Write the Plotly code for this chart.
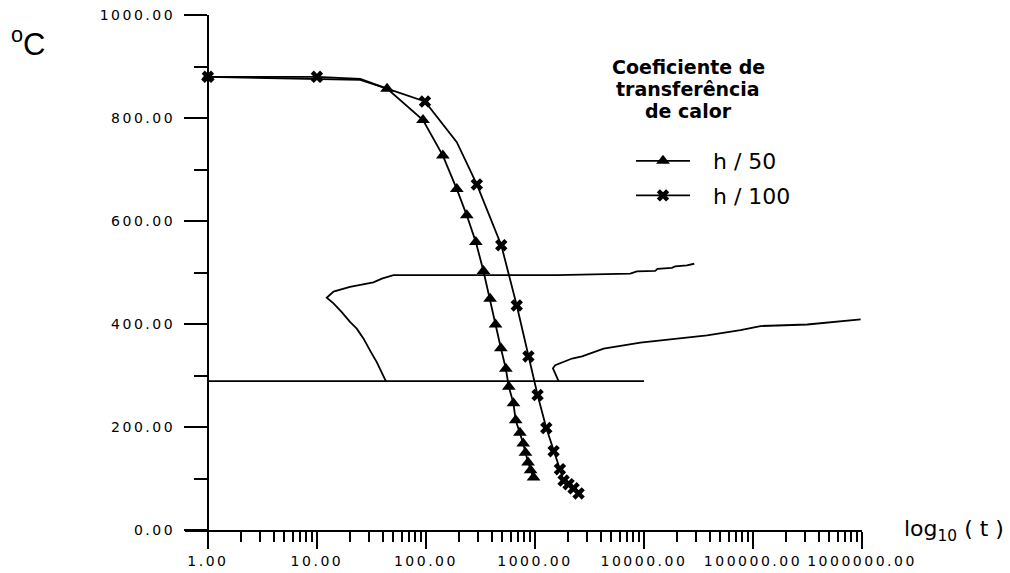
import plotly.graph_objects as go

# ---- cooling curves, time in s (log scale) vs temperature in ºC ----
# h / 50 : marked points
h50_t = [1, 44, 94, 143, 192, 237, 287, 337, 388, 435, 487, 541, 576, 635,
         666, 728, 781, 818, 865, 912, 971]
h50_T = [880, 857, 796, 727, 662, 611, 559, 503, 449, 399, 353, 313, 278, 246,
         213, 189, 168, 150, 131, 116, 102]
# unmarked bends of the h / 50 line
h50_bend_t = [25]
h50_bend_T = [874]

# h / 100 : marked points
h100_t = [1, 10, 98, 293, 491, 681, 871, 1057, 1271, 1483, 1695, 1832, 2034,
          2261, 2514]
h100_T = [880, 880, 832, 671, 553, 436, 337, 262, 198, 153, 118, 96, 89, 81, 71]
# unmarked bends of the h / 100 line
h100_bend_t = [25, 44, 192]
h100_bend_T = [876, 857, 753]

# ---- transformation lines ----
ms_t = [1, 10000]
ms_T = [289, 289]

start_t = [43.1, 39.4, 35.4, 31.8, 29.6, 26.7, 23.2, 20.1, 16.9, 14.2, 12.3,
           14.2, 20.1, 33, 39.4, 50.3, 1592, 7480, 8610, 12680, 13300, 18030,
           19320, 24770, 28900]
start_T = [288, 307, 326, 343, 355, 372, 391, 404, 423, 440, 451,
           463, 472, 481, 488, 495, 495, 498, 502, 503, 507, 509,
           512, 514, 517]

end_t = [1648, 1535, 1462, 1535, 2188, 2704, 4270, 9270, 37960, 76760,
         117200, 314700, 971000]
end_T = [289, 304, 314, 320, 333, 337, 352, 364, 378, 388, 396, 399, 409]

# ---- axes ----
x_major = [1, 10, 100, 1000, 10000, 100000, 1000000]
x_minor = [k * 10 ** d for d in range(6) for k in range(2, 10)]
y_major = [0, 200, 400, 600, 800, 1000]
y_minor = [100, 300, 500, 700, 900]

x_labels = [f"{v:.2f}" for v in x_major]
y_labels = [f"{v:.2f}" for v in y_major]

series_names = ["h / 50", "h / 100"]
legend_title_lines = ["Coeficiente de", "transferência", "de calor"]
y_title = "<sup>o</sup>C"
x_title = "log<sub>10</sub> ( t )"

X_RANGE = [-0.21, 6.0]
Y_RANGE = [0, 1000]
INK = "black"
LW = 1.8
KEY_GAP = "\u2002\u00a0"   # room between the legend key and its label


def spaced(s):
    return f'<span style="letter-spacing:2.5px">{s}</span>'


def merged(t_pts, T_pts, t_b, T_b):
    pts = sorted(zip(list(t_pts) + list(t_b), list(T_pts) + list(T_b)))
    return [p[0] for p in pts], [p[1] for p in pts]


fig = go.Figure()

# transformation lines
for tt, TT in [(ms_t, ms_T), (start_t, start_T), (end_t, end_T)]:
    fig.add_trace(go.Scatter(x=tt, y=TT, mode="lines", showlegend=False,
                             line=dict(color=INK, width=LW), hoverinfo="skip"))

# cooling curves
curves = [
    (h50_t, h50_T, h50_bend_t, h50_bend_T, "triangle-up", 12),
    (h100_t, h100_T, h100_bend_t, h100_bend_T, "x", 11),
]
for name, (tt, TT, tb, Tb, sym, ms) in zip(series_names, curves):
    lx, ly = merged(tt, TT, tb, Tb)
    fig.add_trace(go.Scatter(x=lx, y=ly, mode="lines", showlegend=False,
                             line=dict(color=INK, width=LW)))
    fig.add_trace(go.Scatter(x=tt, y=TT, mode="markers", showlegend=False,
                             marker=dict(symbol=sym, size=ms, color=INK,
                                         line=dict(width=0))))
    # legend key
    fig.add_trace(go.Scatter(x=[None], y=[None], mode="lines+markers",
                             name=KEY_GAP + name, legendgroup=name,
                             line=dict(color=INK, width=LW),
                             marker=dict(symbol=sym, size=ms, color=INK,
                                         line=dict(width=0))))

# layout geometry (pixels)
W, H = 1010, 573
ML, MR, MT, MB = 185, 148, 15, 43
pw, ph = W - ML - MR, H - MT - MB


def px_x(x):
    return (x - ML) / pw


def px_y(y):
    return (H - MB - y) / ph


fig.update_layout(
    width=W, height=H,
    margin=dict(l=ML, r=MR, t=MT, b=MB, pad=0, autoexpand=False),
    paper_bgcolor="white", plot_bgcolor="white",
    font=dict(family="DejaVu Sans", color=INK),
    xaxis=dict(type="log", range=X_RANGE, showgrid=False, zeroline=False,
               automargin=False,
               showline=True, linecolor=INK, linewidth=2,
               ticks="outside", ticklen=17, tickwidth=2, tickcolor=INK,
               tickmode="array", tickvals=x_major,
               ticktext=[spaced(s) for s in x_labels],
               tickfont=dict(size=14), ticklabelstandoff=0,
               minor=dict(ticks="outside", ticklen=10, tickwidth=2,
                          tickcolor=INK, tickmode="array", tickvals=x_minor,
                          showgrid=False)),
    yaxis=dict(range=Y_RANGE, anchor="free",
               position=(0 - X_RANGE[0]) / (X_RANGE[1] - X_RANGE[0]),
               showgrid=False, zeroline=False, automargin=False,
               showline=True, linecolor=INK, linewidth=2,
               ticks="outside", ticklen=23, tickwidth=2, tickcolor=INK,
               tickmode="array", tickvals=y_major,
               ticktext=[spaced(s) for s in y_labels],
               tickfont=dict(size=14), ticklabelstandoff=6,
               minor=dict(ticks="outside", ticklen=13, tickwidth=2,
                          tickcolor=INK, tickmode="array", tickvals=y_minor,
                          showgrid=False)),
    showlegend=True,
    legend=dict(x=px_x(631), y=px_y(140), xanchor="left", yanchor="top",
                bgcolor="rgba(0,0,0,0)", borderwidth=0,
                font=dict(size=22, family="DejaVu Sans"),
                itemwidth=54, tracegroupgap=3),
)

# legend heading, one line at a time
for i, line in enumerate(legend_title_lines):
    fig.add_annotation(text=line, xref="paper", yref="paper",
                       x=px_x(688), y=px_y(67 + 22 * i),
                       xanchor="center", yanchor="middle",
                       showarrow=False,
                       font=dict(size=19, family="DejaVu Sans", color=INK,
                                 weight="bold"))
fig.add_annotation(text=y_title, xref="paper", yref="paper",
                   x=px_x(9), y=px_y(42), xanchor="left", yanchor="middle",
                   showarrow=False,
                   font=dict(size=31, family="Liberation Sans", color=INK))
fig.add_annotation(text=x_title, xref="paper", yref="paper",
                   x=px_x(902), y=px_y(530), xanchor="left", yanchor="middle",
                   showarrow=False,
                   font=dict(size=22, family="DejaVu Sans", color=INK))

fig.write_html("out.html")
